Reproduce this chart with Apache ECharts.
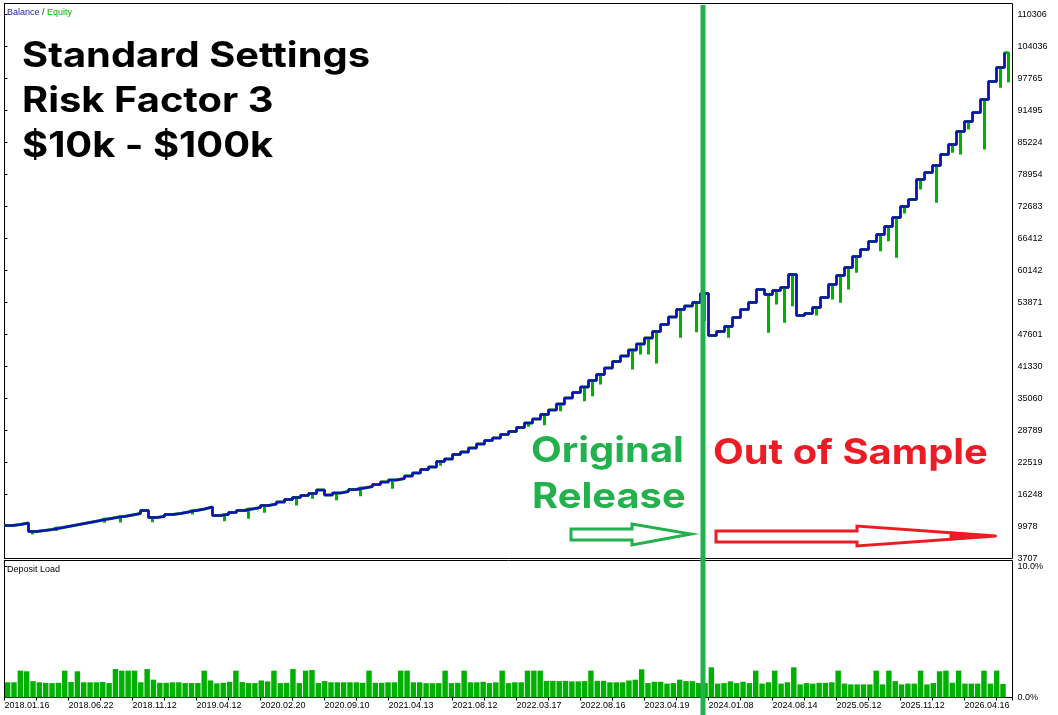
<!DOCTYPE html>
<html><head><meta charset="utf-8">
<script src="https://cdn.jsdelivr.net/npm/echarts@6/dist/echarts.min.js"></script>
<style>html,body{margin:0;padding:0;background:#fff}#c{width:1058px;height:715px}</style>
</head><body><div id="c"></div>
<script>
// Balance sampled at equal steps along the trade axis
const balance = [
10173,10369,10663,8998,9194,9390,9683,9977,10271,10565,
10859,11153,11447,11741,11937,12231,12525,13113,11741,11937,
12329,12525,12819,13113,13407,13798,12133,12329,12721,13113,
13407,13700,14092,14386,14778,15268,15660,16052,16444,17130,
16150,16542,16836,17228,17521,17815,18207,18697,19089,19383,
19873,20461,21147,21636,22714,23204,24086,24576,25359,26143,
26829,27319,28005,28593,29376,30258,31042,31924,32806,33981,
35157,36235,37312,38586,39762,41035,42309,43387,44563,45738,
46914,48188,49559,51029,52499,53184,53870,55634,47404,48188,
49167,50931,52499,53870,56418,55438,56222,56809,59357,51323,
51715,52890,54850,57397,59161,60728,62884,64256,65823,67195,
68762,70526,72681,74053,77972,79344,80715,82871,84830,87378,
89337,91101,93648,97175,99918,102800
];
// Equity drawdown spikes: sample index and lowest equity
const dipIndex = [3,6,12,14,18,23,27,30,32,36,38,41,44,48,54,65,67,69,72,73,74,78,79,80,81,84,86,87,90,95,96,97,98,101,103,104,105,106,109,110,111,112,114,116,118,119,120,122,124,125];
const dipValue = [8410,9100,10703,10760,10820,12330,11016,11486,12663,14093,15400,15131,15915,17360,21900,29500,29827,32570,34530,35500,37800,40742,43680,43680,41917,46953,48050,50200,46953,47930,53480,49890,53140,51322,54460,53810,56420,59690,63920,65880,62630,71310,76010,73400,83200,82870,87770,83850,95940,97040];
// Deposit load, percent
const depositLoad = [
1.16,1.16,2.05,2.0,1.25,1.16,1.12,1.1,1.12,2.05,1.18,2.0,1.16,1.16,1.16,1.18,1.1,2.17,2.05,2.05,
2.05,1.16,2.17,1.36,1.12,1.12,1.16,1.16,1.1,1.1,1.1,2.05,1.3,1.08,1.12,1.2,2.05,1.18,1.1,1.1,
1.3,1.23,2.05,1.1,1.12,2.17,1.1,2.05,2.1,1.1,1.25,1.16,1.16,1.16,1.16,1.16,1.12,2.05,1.12,1.12,
1.16,1.16,2.05,2.05,1.16,1.16,1.09,1.09,1.1,2.05,1.1,1.12,2.05,1.16,1.16,1.2,1.1,1.16,2.05,1.1,
1.16,1.16,2.05,2.05,2.05,1.27,1.27,1.25,1.27,1.23,1.23,1.25,2.05,1.27,1.27,1.16,1.16,1.16,1.3,1.36,
2.15,1.1,1.2,1.2,1.06,1.1,1.36,1.25,1.25,1.1,1.1,2.3,1.06,1.1,1.23,1.1,1.2,1.1,2.05,1.06,
1.16,2.05,1.06,1.16,2.3,1.0,1.1,1.06,1.12,1.12,1.16,2.05,1.06,1.0,1.0,1.0,1.0,2.05,1.0,2.05,
1.25,1.0,1.06,1.06,2.05,1.0,1.1,2.0,2.05,1.12,2.05,1.06,1.06,1.06,2.05,1.06,2.05,1.03
];
const balanceTicks = [3707,9978,16248,22519,28789,35060,41330,47601,53871,60142,66412,72683,78954,85224,91495,97765,104036,110306];
const loadTicks = [0,10];
const dateLabels = ['2018.01.16','2018.06.22','2018.11.12','2019.04.12','2020.02.20','2020.09.10','2021.04.13','2021.08.12','2022.03.17','2022.08.16','2023.04.19','2024.01.08','2024.08.14','2025.05.12','2025.11.12','2026.04.16'];

const STEP = 0.25;
const balData = balance.map((v, i) => [i * STEP, v]);
const eqData = [];
balance.forEach((v, i) => {
  eqData.push([i * STEP, v]);
  const j = dipIndex.indexOf(i);
  if (j >= 0) {
    const x = i * STEP + STEP / 2;
    eqData.push([x, v], [x, dipValue[j]], [x, v]);
  }
});
const loadCats = depositLoad.map((_, i) => i).concat([depositLoad.length]);

const AX_FONT = 'Liberation Sans';
const GREEN = '#22b14c', RED = '#ed1c24';
const BIG = 'bold 35px Inter';
const SX = 1.14;
const chart = echarts.init(document.getElementById('c'), null, {renderer: 'canvas'});
chart.setOption({
  animation: false,
  backgroundColor: '#fff',
  title: [
    {text: '{b|Balance} {s|/} {e|Equity}', left: 7, top: 8, padding: 0,
     textStyle: {fontSize: 9, fontFamily: AX_FONT, fontWeight: 'normal',
       rich: {b: {color: '#1c1cb8', fontSize: 9, fontFamily: AX_FONT},
              s: {color: '#333', fontSize: 9, fontFamily: AX_FONT},
              e: {color: '#00b000', fontSize: 9, fontFamily: AX_FONT}}}},
    {text: 'Deposit Load', left: 7, top: 565, padding: 0,
     textStyle: {fontSize: 9, fontFamily: AX_FONT, fontWeight: 'normal', color: '#000'}}
  ],
  grid: [
    {left: 4.5, top: 3.5, width: 1008, height: 555, show: true, borderColor: '#000', borderWidth: 1},
    {left: 4.5, top: 560.5, width: 1008, height: 137, show: true, borderColor: '#000', borderWidth: 1}
  ],
  xAxis: [
    {gridIndex: 0, type: 'value', min: 0, max: 31.5, show: false},
    {gridIndex: 1, type: 'value', min: 0, max: 31.5, interval: 1,
     axisLine: {show: false},
     axisTick: {show: true, length: 3, lineStyle: {color: '#000'}},
     axisLabel: {customValues: dateLabels.map((_, i) => i * 2),
       formatter: v => dateLabels[Math.round(v / 2)], align: 'left', margin: 4,
       fontSize: 9, fontFamily: AX_FONT, color: '#000'},
     splitLine: {show: false}},
    {gridIndex: 1, type: 'category', data: loadCats, show: false}
  ],
  yAxis: [
    {gridIndex: 0, type: 'value', position: 'right', min: 3707, max: 112460,
     axisLine: {show: true, lineStyle: {color: '#000'}},
     axisTick: {show: true, length: 3, customValues: balanceTicks, lineStyle: {color: '#000'}},
     axisLabel: {customValues: balanceTicks, formatter: v => String(v),
       fontSize: 9, fontFamily: AX_FONT, color: '#000', margin: 5},
     splitLine: {show: false}},
    {gridIndex: 1, type: 'value', position: 'right', min: 0, max: 10.45,
     axisLine: {show: true, lineStyle: {color: '#000'}},
     axisTick: {show: true, length: 3, customValues: loadTicks, lineStyle: {color: '#000'}},
     axisLabel: {customValues: loadTicks, formatter: v => v.toFixed(1) + '%',
       fontSize: 9, fontFamily: AX_FONT, color: '#000', margin: 5},
     splitLine: {show: false}}
  ],
  series: [
    {name: 'Equity', type: 'line', xAxisIndex: 0, yAxisIndex: 0, step: 'end', data: eqData,
     showSymbol: false, lineStyle: {color: '#00b000', width: 3}, z: 2},
    {name: 'Balance', type: 'line', xAxisIndex: 0, yAxisIndex: 0, step: 'end', data: balData,
     showSymbol: false, lineStyle: {color: '#1010b4', width: 2.4}, z: 3},
    {name: 'Deposit Load', type: 'bar', xAxisIndex: 2, yAxisIndex: 1, data: depositLoad,
     barCategoryGap: '14%', itemStyle: {color: '#00b000'}}
  ],
  graphic: [
    {type: 'line', z: 100, shape: {x1: 703, y1: 5, x2: 703, y2: 715}, style: {stroke: GREEN, lineWidth: 5}},
    {type: 'text', z: 100, x: 22, y: 56, scaleX: SX, style: {text: 'Standard Settings', fill: '#000', font: BIG, verticalAlign: 'middle'}},
    {type: 'text', z: 100, x: 22, y: 101, scaleX: SX, style: {text: 'Risk Factor 3', fill: '#000', font: BIG, verticalAlign: 'middle'}},
    {type: 'text', z: 100, x: 22, y: 146, scaleX: SX, style: {text: '$10k - $100k', fill: '#000', font: BIG, verticalAlign: 'middle'}},
    {type: 'text', z: 100, x: 531, y: 451, scaleX: SX, style: {text: 'Original', fill: GREEN, font: BIG, verticalAlign: 'middle'}},
    {type: 'text', z: 100, x: 532, y: 497, scaleX: SX, style: {text: 'Release', fill: GREEN, font: BIG, verticalAlign: 'middle'}},
    {type: 'text', z: 100, x: 713, y: 453, scaleX: SX, style: {text: 'Out of Sample', fill: RED, font: BIG, verticalAlign: 'middle'}},
    {type: 'polygon', z: 100, shape: {points: [[571,529],[632,529],[632,524],[691,534],[632,545],[632,540],[571,540]]},
     style: {fill: 'none', stroke: GREEN, lineWidth: 3}},
    {type: 'polygon', z: 100, shape: {points: [[716,531],[857,531],[857,526],[996,536],[857,546],[857,542],[716,542]]},
     style: {fill: 'none', stroke: RED, lineWidth: 3}},
    {type: 'polygon', z: 100, shape: {points: [[950,532],[997,536],[950,540]]},
     style: {fill: RED, stroke: RED, lineWidth: 1}}
  ]
});
</script>
</body></html>
